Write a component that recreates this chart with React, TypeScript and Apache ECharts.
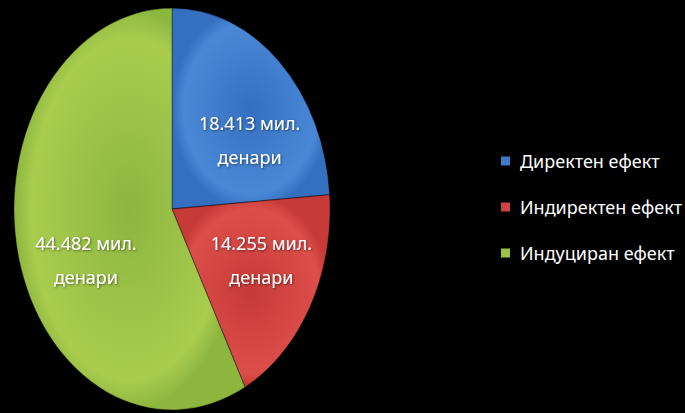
import React, { useEffect, useRef } from "react";
import * as echarts from "echarts";

const categories = ["Директен ефект", "Индиректен ефект", "Индуциран ефект"];
const values = [18.413, 14.255, 44.482];
const valueLabels = ["18.413 мил.\nденари", "14.255 мил.\nденари", "44.482 мил.\nденари"];

const colorsTop = ["#4a88d6", "#dc4e4a", "#a9cc4e"];
const colorsBottom = ["#3570c0", "#c63a37", "#8db63f"];
const legendColors = ["#3f7cc8", "#d0443f", "#9cc245"];
// label placement tweaks (fraction of radius, angle shift in degrees)
const labelRadiusFrac = [0.6, 0.62, 0.6];
const labelAngleShift = [12, -5, -11];

const FONT = "'Liberation Sans Narrow', 'Noto Sans', sans-serif";

export default function App() {
  const ref = useRef<HTMLDivElement>(null);
  useEffect(() => {
    if (!ref.current) return;
    const chart = echarts.init(ref.current, undefined, { renderer: "svg" });
    const total = values.reduce((a, b) => a + b, 0);
    const cum: number[] = [];
    let acc = 0;
    values.forEach((v) => {
      cum.push(acc);
      acc += v;
    });
    const cx = 172;
    const cy = 209;
    const rx = 158;
    const ry = 201;

    const series = categories.map((name, i) => ({
      type: "custom",
      name,
      coordinateSystem: "none",
      itemStyle: { color: legendColors[i] },
      data: [values[i]],
      renderItem: (params: any, api: any) => {
        const v = api.value(0);
        const start = -Math.PI / 2 + (cum[i] / total) * Math.PI * 2;
        const end = start + (v / total) * Math.PI * 2;
        const mid = (start + end) / 2 + (labelAngleShift[i] * Math.PI) / 180;
        const f = labelRadiusFrac[i];
        const lx = cx + rx * f * Math.cos(mid);
        const ly = cy + ry * f * Math.sin(mid);
        return {
          type: "group",
          children: [
            {
              type: "group",
              x: cx,
              y: cy,
              scaleX: 1,
              scaleY: ry / rx,
              children: [
                {
                  type: "sector",
                  shape: { cx: 0, cy: 0, r0: 0, r: rx, startAngle: start, endAngle: end, clockwise: true },
                  style: {
                    fill: {
                      type: "radial",
                      x: 0.5,
                      y: 0.5,
                      r: 0.5,
                      colorStops: [
                        { offset: 0, color: colorsBottom[i] },
                        { offset: 0.85, color: colorsTop[i] },
                        { offset: 1, color: colorsBottom[i] },
                      ],
                    },
                    stroke: "rgba(0,0,0,0.35)",
                    lineWidth: 1,
                    strokeNoScale: true,
                  },
                },
              ],
            },
            {
              type: "text",
              x: lx,
              y: ly,
              style: {
                text: valueLabels[i],
                fill: "#ffffff",
                font: `18px ${FONT}`,
                align: "center",
                verticalAlign: "middle",
                lineHeight: 34,
                textShadowColor: "rgba(0,0,0,0.5)",
                textShadowBlur: 2,
                textShadowOffsetX: 1,
                textShadowOffsetY: 1,
              },
            },
          ],
        };
      },
    }));

    chart.setOption({
      animation: false,
      backgroundColor: "#000000",
      legend: {
        orient: "vertical",
        left: 496,
        top: 147,
        itemWidth: 9,
        itemHeight: 9,
        itemGap: 28,
        icon: "rect",
        data: categories,
        textStyle: { color: "#ffffff", fontSize: 18, fontFamily: FONT, padding: [0, 0, 0, 5] },
      },
      series,
    });
    return () => chart.dispose();
  }, []);
  return (
    <div
      ref={ref}
      style={{ position: "fixed", left: 0, top: 0, width: 685, height: 413, background: "#000" }}
    />
  );
}
